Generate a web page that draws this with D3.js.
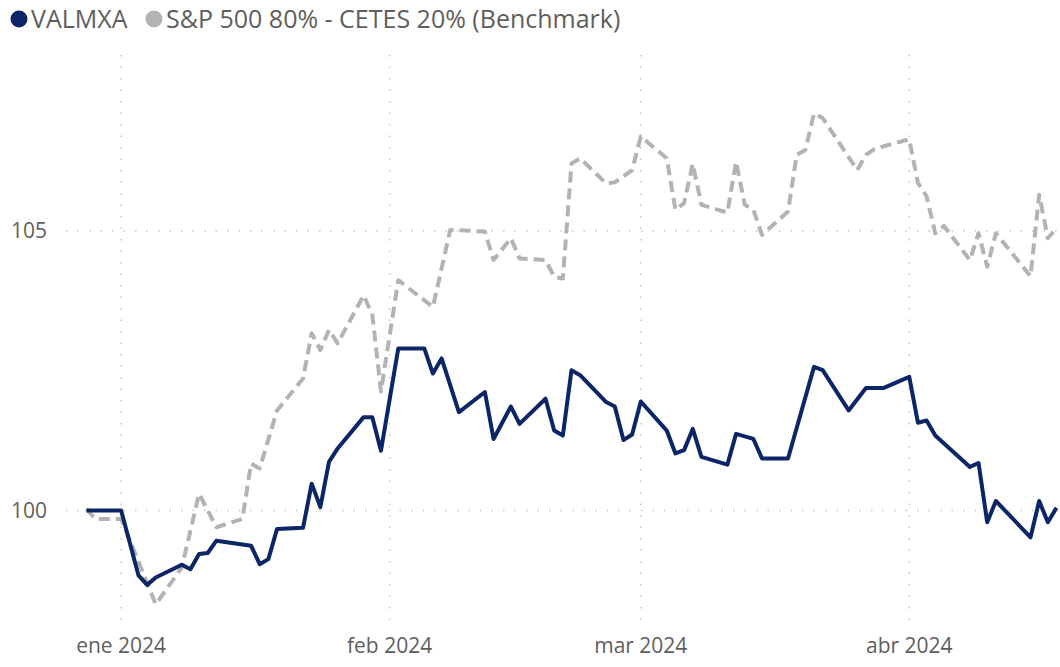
<!DOCTYPE html>
<html>
<head>
<meta charset="utf-8">
<script src="https://cdn.jsdelivr.net/npm/d3@7"></script>
<style>
  body { margin: 0; background: #fff; }
  svg { display: block; font-family: "Open Sans", "Noto Sans", sans-serif; }
</style>
</head>
<body>
<svg id="svg"></svg>
<script>
// series names
const seriesNames = ["VALMXA", "S&P 500 80% - CETES 20% (Benchmark)"];

// VALMXA, vertices
const valmxaDates = ["2023-12-28", "2024-01-01", "2024-01-03", "2024-01-04", "2024-01-05", "2024-01-08", "2024-01-09",
  "2024-01-10", "2024-01-11", "2024-01-12", "2024-01-16", "2024-01-17", "2024-01-18", "2024-01-19", "2024-01-22",
  "2024-01-23", "2024-01-24", "2024-01-25", "2024-01-26", "2024-01-29", "2024-01-30", "2024-01-31", "2024-02-02",
  "2024-02-05", "2024-02-06", "2024-02-07", "2024-02-09", "2024-02-12", "2024-02-13", "2024-02-15", "2024-02-16",
  "2024-02-19", "2024-02-20", "2024-02-21", "2024-02-22", "2024-02-23", "2024-02-26", "2024-02-27", "2024-02-28",
  "2024-02-29", "2024-03-01", "2024-03-04", "2024-03-05", "2024-03-06", "2024-03-07", "2024-03-08", "2024-03-11",
  "2024-03-12", "2024-03-14", "2024-03-15", "2024-03-18", "2024-03-21", "2024-03-22", "2024-03-25", "2024-03-27",
  "2024-03-29", "2024-04-01", "2024-04-02", "2024-04-03", "2024-04-04", "2024-04-08", "2024-04-09", "2024-04-10",
  "2024-04-11", "2024-04-15", "2024-04-16", "2024-04-17", "2024-04-18"];
const valmxaValues = [100.00, 100.00, 98.84, 98.67, 98.80, 99.03, 98.95,
  99.22, 99.24, 99.46, 99.37, 99.04, 99.13, 99.67, 99.69,
  100.48, 100.06, 100.87, 101.11, 101.67, 101.67, 101.07, 102.90,
  102.90, 102.45, 102.72, 101.76, 102.12, 101.28, 101.86, 101.55,
  102.00, 101.43, 101.34, 102.51, 102.42, 101.94, 101.86, 101.26,
  101.36, 101.95, 101.43, 101.02, 101.08, 101.46, 100.96, 100.82,
  101.37, 101.28, 100.93, 100.93, 102.57, 102.51, 101.79, 102.19,
  102.19, 102.39, 101.57, 101.61, 101.34, 100.78, 100.85, 99.79,
  100.17, 99.52, 100.17, 99.79, 100.05];

// benchmark, vertices
const benchDates = ["2023-12-28", "2023-12-29", "2024-01-01", "2024-01-05", "2024-01-08", "2024-01-10", "2024-01-12",
  "2024-01-15", "2024-01-16", "2024-01-17", "2024-01-19", "2024-01-22", "2024-01-23", "2024-01-24", "2024-01-25",
  "2024-01-26", "2024-01-29", "2024-01-30", "2024-01-31", "2024-02-02", "2024-02-06", "2024-02-08", "2024-02-12",
  "2024-02-13", "2024-02-15", "2024-02-16", "2024-02-19", "2024-02-20", "2024-02-21", "2024-02-22", "2024-02-23",
  "2024-02-26", "2024-02-27", "2024-02-29", "2024-03-01", "2024-03-04", "2024-03-05", "2024-03-06", "2024-03-07",
  "2024-03-08", "2024-03-11", "2024-03-12", "2024-03-13", "2024-03-14", "2024-03-15", "2024-03-18", "2024-03-19",
  "2024-03-20", "2024-03-21", "2024-03-22", "2024-03-26", "2024-03-27", "2024-03-28", "2024-04-01", "2024-04-02",
  "2024-04-03", "2024-04-04", "2024-04-05", "2024-04-08", "2024-04-09", "2024-04-10", "2024-04-11", "2024-04-15",
  "2024-04-16", "2024-04-17", "2024-04-18"];
const benchValues = [100.03, 99.85, 99.85, 98.32, 98.98, 100.30, 99.70,
  99.85, 100.84, 100.75, 101.79, 102.36, 103.17, 102.87, 103.23,
  102.99, 103.85, 103.50, 102.13, 104.12, 103.64, 105.02, 104.99,
  104.48, 104.87, 104.51, 104.48, 104.18, 104.15, 106.21, 106.30,
  105.85, 105.87, 106.09, 106.69, 106.30, 105.38, 105.50, 106.20,
  105.47, 105.33, 106.24, 105.47, 105.38, 104.93, 105.35, 106.36,
  106.45, 107.10, 107.02, 106.09, 106.36, 106.47, 106.64, 105.86,
  105.62, 104.96, 105.09, 104.48, 104.96, 104.36, 104.96, 104.19,
  105.65, 104.87, 105.05];

const yTicks = [100, 105];
const monthTicks = ["2024-01-01", "2024-02-01", "2024-03-01", "2024-04-01"];
const monthLabels = ["ene 2024", "feb 2024", "mar 2024", "abr 2024"];

let layout = {"width": 1060, "height": 667,
              "plotLeft": 66, "plotRight": 1060,
              "plotTop": 55, "plotBottom": 623};

const parse = d3.timeParse("%Y-%m-%d");

let svgElement = d3.select("#svg")
  .attr("width", layout.width)
  .attr("height", layout.height);

let xScale = d3.scaleTime()
  .domain([parse("2023-12-28"), parse("2024-04-18")])
  .range([86.5, 1056.5]);

let yScale = d3.scaleLinear()
  .domain([100, 105])
  .range([510.5, 231]);

// gridlines
svgElement.append("g")
  .selectAll("line")
  .data(yTicks)
  .join("line")
  .attr("x1", layout.plotLeft)
  .attr("x2", layout.plotRight)
  .attr("y1", d => yScale(d))
  .attr("y2", d => yScale(d))
  .attr("stroke", "#c8c6c4")
  .attr("stroke-width", 1.5)
  .attr("stroke-dasharray", "1.5,10");

svgElement.append("g")
  .selectAll("line")
  .data(monthTicks)
  .join("line")
  .attr("x1", d => xScale(parse(d)))
  .attr("x2", d => xScale(parse(d)))
  .attr("y1", layout.plotTop)
  .attr("y2", layout.plotBottom)
  .attr("stroke", "#c8c6c4")
  .attr("stroke-width", 1.5)
  .attr("stroke-dasharray", "1.5,10");

// axes labels
svgElement.append("g")
  .selectAll("text")
  .data(yTicks)
  .join("text")
  .attr("x", 47)
  .attr("y", d => yScale(d))
  .attr("dy", "0.35em")
  .attr("text-anchor", "end")
  .attr("fill", "#605e5c")
  .attr("font-size", 21)
  .text(d => d);

svgElement.append("g")
  .selectAll("text")
  .data(monthTicks)
  .join("text")
  .attr("x", d => xScale(parse(d)))
  .attr("y", 653)
  .attr("text-anchor", "middle")
  .attr("fill", "#605e5c")
  .attr("font-size", 21)
  .text((d, i) => monthLabels[i]);

// lines
const line = d3.line()
  .x(d => xScale(d.date))
  .y(d => yScale(d.value));

const bench = benchDates.map((d, i) => ({date: parse(d), value: benchValues[i]}));
const valmxa = valmxaDates.map((d, i) => ({date: parse(d), value: valmxaValues[i]}));

svgElement.append("path")
  .datum(bench)
  .attr("d", line)
  .attr("fill", "none")
  .attr("stroke", "#b3b3b3")
  .attr("stroke-width", 4)
  .attr("stroke-dasharray", "11,6")
  .attr("stroke-linejoin", "round");

svgElement.append("path")
  .datum(valmxa)
  .attr("d", line)
  .attr("fill", "none")
  .attr("stroke", "#0b2566")
  .attr("stroke-width", 4)
  .attr("stroke-linejoin", "round");

// legend
const legendColors = ["#0b2566", "#b3b3b3"];
const legendX = [19, 154];

let legend = svgElement.append("g")
  .selectAll("g")
  .data(seriesNames)
  .join("g")
  .attr("transform", (d, i) => `translate(${legendX[i]}, 19)`);

legend.append("circle")
  .attr("r", 8.5)
  .attr("fill", (d, i) => legendColors[i]);

legend.append("text")
  .attr("x", 12)
  .attr("dy", "0.35em")
  .attr("fill", "#605e5c")
  .attr("font-size", 25)
  .text(d => d);
</script>
</body>
</html>
